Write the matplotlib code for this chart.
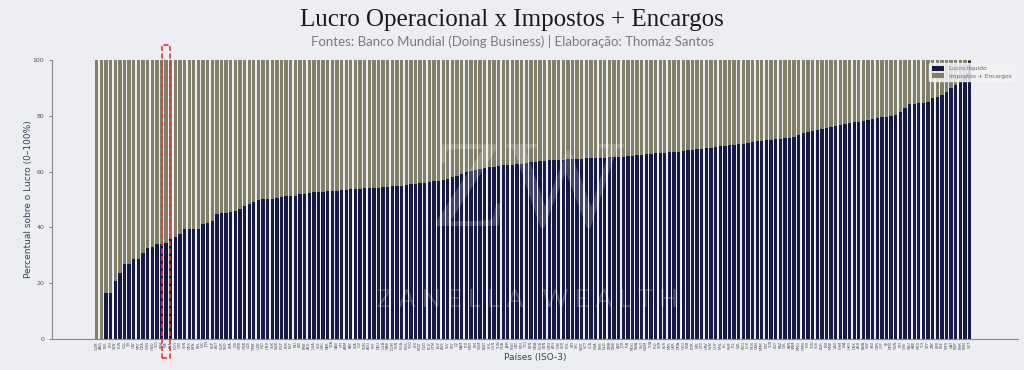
import matplotlib
matplotlib.use("Agg")
import matplotlib.pyplot as plt
import numpy as np
from matplotlib.patches import Rectangle

# ISO-3 codes, ordered from lowest to highest net profit share
paises = """COM ARG BOL ERI VEN PLW COL TJK CAF MRT
DZA CHN GNQ TCD BRA ITA FRA COG GIN SEN
MEX BEN BEL NIC JPN ESP AUT SUR SSD BFA
CRI CMR GNB CZE GMB UZB IND HND SVK SWE
KGZ PER EST MLI BDI BRB AFG USA SLE GRC
NER TZA GAB HTI ARM PAK LKA CIV SDN AGO
PRT DEU UGA MAR DOM KEN NGA RUS TGO ISR
MOZ COD ECU GTM BLZ AUS SLV PRY DJI NAM
LTU MWI FIN SOM BGD PHL HUN TUN GHA JAM
PNG URY ETH TTO LBN DMA NOR BTN GRD ATG
IDN SYR POL LBY SYC SWZ VCT LCA KNA BHS
NLD ZMB ZWE AZE JOR IRN MDG RWA LSO WSM
THA IRQ YEM BLR MYS UKR MDA GEO SRB KOR
NPL CPV HRV SVN GUY MHL ISL FSM IRL NZL
ROU LUX MUS CAN MMR MLT TUR EGY KAZ CHL
PAN VNM MNG OMN KIR TON SLB BGR BIH MNE
LAO KHM LVA HKG DNK ALB BWA SGP XKX GBR
CYP FJI MDV TWN PRI CHE SAU ARE MKD TLS
STP ZAF LBR PSE SMR QAT KWT BHR BRN VUT""".split()

lucro_liquido = [
    0.0, 0.0, 16.5, 16.5, 20.8, 23.5, 26.8, 26.8, 28.8, 28.8,
    30.9, 32.7, 33.1, 34.0, 34.2, 34.3, 35.7, 36.7, 37.6, 39.4,
    39.4, 39.4, 39.6, 41.2, 41.7, 42.4, 44.7, 45.0, 45.0, 45.4,
    45.8, 46.6, 47.5, 48.5, 49.0, 49.8, 50.3, 50.3, 50.3, 50.6,
    51.0, 51.1, 51.2, 51.4, 51.9, 52.0, 52.5, 52.6, 52.7, 52.8,
    52.9, 53.0, 53.2, 53.4, 53.5, 53.6, 53.8, 53.9, 54.0, 54.1,
    54.2, 54.3, 54.5, 54.6, 54.7, 54.9, 55.0, 55.2, 55.4, 55.6,
    55.8, 56.0, 56.3, 56.5, 56.8, 57.0, 57.4, 58.0, 58.6, 59.2,
    59.7, 60.1, 60.5, 61.0, 61.3, 61.6, 61.8, 62.0, 62.2, 62.3,
    62.5, 62.7, 62.9, 63.1, 63.3, 63.5, 63.7, 63.8, 64.0, 64.1,
    64.2, 64.3, 64.4, 64.5, 64.6, 64.6, 64.7, 64.8, 64.9, 65.0,
    65.0, 65.1, 65.2, 65.3, 65.4, 65.6, 65.7, 65.9, 66.0, 66.2,
    66.3, 66.5, 66.6, 66.8, 66.9, 67.1, 67.2, 67.4, 67.6, 67.8,
    68.0, 68.2, 68.4, 68.6, 68.8, 69.0, 69.2, 69.4, 69.6, 69.8,
    70.0, 70.2, 70.6, 71.0, 71.1, 71.3, 71.4, 71.6, 71.7, 71.9,
    72.1, 72.3, 73.2, 74.0, 74.3, 74.6, 74.9, 75.3, 75.7, 76.0,
    76.3, 76.6, 76.9, 77.5, 77.7, 77.9, 78.2, 78.5, 78.8, 79.1,
    79.4, 79.7, 80.0, 80.3, 81.5, 82.7, 84.2, 84.4, 84.6, 84.7,
    85.0, 86.3, 86.9, 87.5, 88.6, 89.9, 91.0, 92.8, 94.0, 99.5,
]
impostos_encargos = [100 - v for v in lucro_liquido]

destaque = "ITA"  # highlighted country (red dashed box)

navy = "#141a45"
olive = "#827e67"
bg = "#eceef1"

fig = plt.figure(figsize=(10.24, 3.70), dpi=100, facecolor=bg)
ax = fig.add_axes([0.0508, 0.0838, 0.943, 0.754])
ax.set_facecolor(bg)

x = np.arange(len(paises))
ax.bar(x, lucro_liquido, width=0.72, color=navy, label="Lucro líquido")
ax.bar(x, impostos_encargos, width=0.72, bottom=lucro_liquido, color=olive,
       label="Impostos + Encargos")

ax.set_xlim(-9.7, 199.4)
ax.set_ylim(0, 100)
ax.set_yticks([0, 20, 40, 60, 80, 100])
ax.tick_params(axis="y", labelsize=4.5, colors="#555555", length=2, width=0.5)
ax.set_xticks(x)
ax.set_xticklabels(paises, rotation=90, fontsize=2.6, color="#555555")
ax.tick_params(axis="x", length=0, pad=1.5)

for s in ["top", "right"]:
    ax.spines[s].set_visible(False)
for s in ["left", "bottom"]:
    ax.spines[s].set_color("#888888")
    ax.spines[s].set_linewidth(0.8)

ax.set_ylabel("Percentual sobre o Lucro (0–100%)", fontsize=6.5, color="#3a3d5c")
ax.yaxis.set_label_coords(-0.02, 0.5)
ax.set_xlabel("Países (ISO-3)", fontsize=6.5, color="#3a3d5c", labelpad=2)

leg = ax.legend(loc="upper right", fontsize=4.2, frameon=True, handlelength=2.2,
                handleheight=0.9, borderpad=0.5, labelspacing=0.3,
                bbox_to_anchor=(1.0, 1.0))
leg.get_frame().set_facecolor("#f2f3f5")
leg.get_frame().set_edgecolor("#f2f3f5")
leg.get_frame().set_alpha(0.85)
for t in leg.get_texts():
    t.set_color("#666666")

# red dashed highlight
i = paises.index(destaque)
ax.add_patch(Rectangle((i - 0.92, -6.8), 1.84, 112.2, fill=False,
                       edgecolor="#e03c31", linestyle=(0, (3, 1.5)),
                       linewidth=1.2, clip_on=False, zorder=5))

# watermark
fig.text(0.515, 0.47, "ZW", fontsize=90, family="Liberation Serif",
         color="white", alpha=0.2, ha="center", va="center", zorder=10)
fig.text(0.515, 0.19, "Z A N E L L A   W E A L T H", fontsize=18,
         family="Lato", color="white", alpha=0.22, ha="center", va="center",
         zorder=10)

fig.text(0.5, 0.945, "Lucro Operacional x Impostos + Encargos", ha="center",
         va="center", fontsize=18, family="Liberation Serif", color="#1a1a1a")
fig.text(0.5, 0.888,
         "Fontes: Banco Mundial (Doing Business) | Elaboração: Thomáz Santos",
         ha="center", va="center", fontsize=9.5, family="Lato", color="#7a7a7a")

fig.savefig("out.png", dpi=100, facecolor=bg)
